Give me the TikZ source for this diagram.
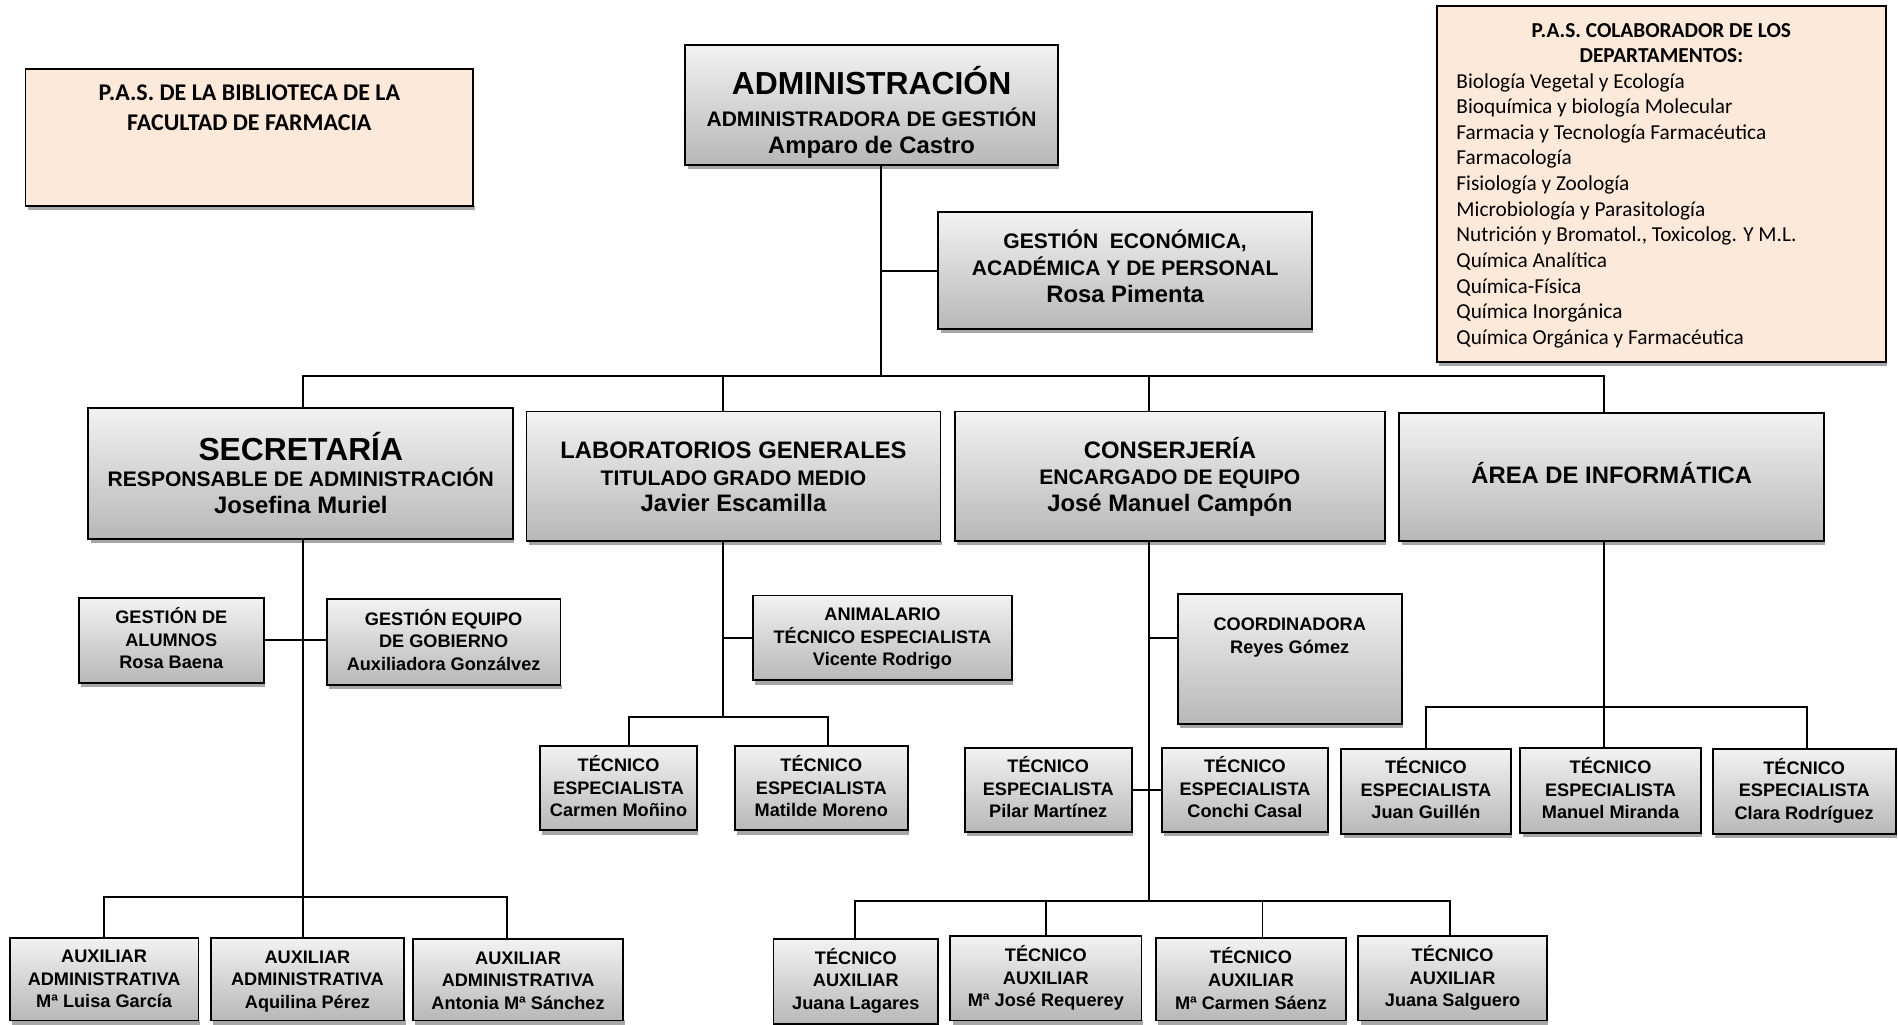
\documentclass[tikz,border=0pt]{standalone}
\usepackage{fontspec}
\setmainfont{Liberation Sans}
\newfontfamily\calf{Carlito}
\definecolor{peach}{HTML}{FDE9D9}
\newcommand\szT{\fontsize{26.3}{22}\selectfont}
\newcommand\szN{\fontsize{19.7}{22}\selectfont}
\newcommand\bx[6]{%
  \fill[boxshadow] (#3+2,#6) rectangle (#5+1,#6+3.5);
  \node[#1, minimum width={#5-#3}, minimum height={#6-#4}] (#2) at ({(#3+#5)/2},{(#4+#6)/2}) {};}
\tikzset{
  gbox/.style={draw, line width=1.5pt, top color=black!5, bottom color=black!28, inner sep=0pt, shape=rectangle},
  pbox/.style={draw, line width=1.5pt, fill=peach, inner sep=0pt, shape=rectangle},
  boxshadow/.style={fill=black!35},
  conn/.style={draw, line width=1.6pt, line cap=rect},
  bigtxt/.style={font=\bfseries\fontsize{17.4}{22}\selectfont, align=center, inner sep=0pt},
  smalltxt/.style={font=\bfseries\fontsize{15}{18.6}\selectfont, align=center, inner sep=0pt},
}
\begin{document}
\begin{tikzpicture}[x=1pt,y=-1pt]
\fill[white] (0,0) rectangle (1568,846);
\useasboundingbox (0,0) rectangle (1568,846);

% peach boxes
\bx{pbox}{bib}{21}{57}{391}{170}
\node[font=\calf\bfseries\fontsize{19.8}{24}\selectfont, align=center, inner sep=0pt] (bibT) at (206,89) {P.A.S. DE LA BIBLIOTECA DE LA\\FACULTAD DE FARMACIA};
\bx{pbox}{col}{1187}{5}{1558}{299}
\node[font=\calf\bfseries\fontsize{17.6}{21.2}\selectfont, align=center, inner sep=0pt] (colT) at (1372.5,35.6) {P.A.S. COLABORADOR DE LOS\\DEPARTAMENTOS:};
\node[font=\calf\fontsize{17.6}{21.2}\selectfont, align=left, inner sep=0pt, anchor=west] (listT) at (1203,174.1) {Biología Vegetal y Ecología\\Bioquímica y biología Molecular\\Farmacia y Tecnología Farmacéutica\\Farmacología\\Fisiología y Zoología\\Microbiología y Parasitología\\Nutrición y Bromatol., Toxicolog. Y M.L.\\Química Analítica\\Química-Física\\Química Inorgánica\\Química Orgánica y Farmacéutica};

% top level
\bx{gbox}{adm}{566}{37}{874}{136}
\node[bigtxt] (admT) at (720,92.8) {{\szT ADMINISTRACIÓN}\\[4pt]ADMINISTRADORA DE GESTIÓN\\{\szN Amparo de Castro}};
\bx{gbox}{gec}{775}{175}{1084}{272}
\node[bigtxt] (gecT) at (929.5,219.9) {GESTIÓN\ \ ECONÓMICA,\\ACADÉMICA Y DE PERSONAL\\{\szN Rosa Pimenta}};

% departments
\bx{gbox}{sec}{73}{337}{424}{445}
\node[bigtxt] (secT) at (248.5,390.75) {{\szT SECRETARÍA}\\RESPONSABLE DE ADMINISTRACIÓN\\{\szN Josefina Muriel}};
\bx{gbox}{lab}{435}{340}{777}{447}
\node[bigtxt] (labT) at (606,393.9) {{\szN LABORATORIOS GENERALES}\\TITULADO GRADO MEDIO\\{\szN Javier Escamilla}};
\bx{gbox}{cons}{789}{340}{1144}{447}
\node[bigtxt] (consT) at (966.5,393.9) {{\szN CONSERJERÍA}\\ENCARGADO DE EQUIPO\\{\szN José Manuel Campón}};
\bx{gbox}{inf}{1156}{341}{1507}{447}
\node[bigtxt] (infT) at (1331.5,390.9) {{\szN ÁREA DE INFORMÁTICA}};

% secretaria children
\bx{gbox}{ga}{65}{494}{218}{564}
\node[smalltxt] (gaT) at (141.5,527.4) {GESTIÓN DE\\ALUMNOS\\Rosa Baena};
\bx{gbox}{ge}{270}{495}{463}{566}
\node[smalltxt] (geT) at (366.5,528.4) {GESTIÓN EQUIPO\\DE GOBIERNO\\Auxiliadora Gonzálvez};
\bx{gbox}{a1}{8}{775}{164}{843}
\node[smalltxt] (a1T) at (86,809) {AUXILIAR\\ADMINISTRATIVA\\Mª Luisa García};
\bx{gbox}{a2}{174}{775}{334}{843}
\node[smalltxt] (a2T) at (254,810.6) {AUXILIAR\\ADMINISTRATIVA\\Aquilina Pérez};
\bx{gbox}{a3}{341}{776}{515}{843}
\node[smalltxt] (a3T) at (428,810) {AUXILIAR\\ADMINISTRATIVA\\Antonia Mª Sánchez};

% laboratorios children
\bx{gbox}{anim}{622}{492}{836}{562}
\node[smalltxt] (animT) at (729,527.6) {ANIMALARIO\\TÉCNICO ESPECIALISTA\\Vicente Rodrigo};
\bx{gbox}{te1}{446}{616}{576}{686}
\node[smalltxt] (te1T) at (511,649.4) {TÉCNICO\\ESPECIALISTA\\Carmen Moñino};
\bx{gbox}{te2}{607}{616}{750}{686}
\node[smalltxt] (te2T) at (678.5,649.4) {TÉCNICO\\ESPECIALISTA\\Matilde Moreno};

% conserjeria children
\bx{gbox}{coord}{973}{491}{1158}{598}
\node[smalltxt] (coordT) at (1065.5,526.9) {COORDINADORA\\Reyes Gómez};
\bx{gbox}{tp}{797}{618}{935}{687}
\node[smalltxt] (tpT) at (866,650.4) {TÉCNICO\\ESPECIALISTA\\Pilar Martínez};
\bx{gbox}{tc}{960}{618}{1097}{687}
\node[smalltxt] (tcT) at (1028.5,650.4) {TÉCNICO\\ESPECIALISTA\\Conchi Casal};
\bx{gbox}{tal1}{639}{776}{775}{846}
\node[smalltxt] (tal1T) at (707,810) {TÉCNICO\\AUXILIAR\\Juana Lagares};
\bx{gbox}{tal2}{785}{773}{943}{843}
\node[smalltxt] (tal2T) at (864,808) {TÉCNICO\\AUXILIAR\\Mª José Requerey};
\bx{gbox}{tal3}{955}{775}{1112}{843}
\node[smalltxt] (tal3T) at (1033.5,808.4) {TÉCNICO\\AUXILIAR\\Mª Carmen Sáenz};
\bx{gbox}{tal4}{1122}{773}{1278}{843}
\node[smalltxt] (tal4T) at (1200,808) {TÉCNICO\\AUXILIAR\\Juana Salguero};

% informatica children
\bx{gbox}{tj}{1108}{619}{1248}{689}
\node[smalltxt] (tjT) at (1178,651.4) {TÉCNICO\\ESPECIALISTA\\Juan Guillén};
\bx{gbox}{tm}{1256}{618}{1405}{688}
\node[smalltxt] (tmT) at (1330.5,651.4) {TÉCNICO\\ESPECIALISTA\\Manuel Miranda};
\bx{gbox}{tcr}{1415}{619}{1566}{689}
\node[smalltxt] (tcrT) at (1490.5,653) {TÉCNICO\\ESPECIALISTA\\Clara Rodríguez};

% ---- connectors ----
\coordinate (jA) at (728,311);
\coordinate (jS) at (250,311);
\coordinate (jL) at (597,311);
\coordinate (jC) at (949,311);
\coordinate (jI) at (1325,311);
\draw[conn] (jA |- adm.south) -- (jA);
\draw[conn] (jA |- gec.west) -- (gec.west);
\draw[conn] (jS |- sec.north) -- (jS) -- (jI) -- (jI |- inf.north);
\draw[conn] (jL) -- (jL |- lab.north);
\draw[conn] (jC) -- (jC |- cons.north);

% secretaria
\coordinate (sB) at (250,741);
\coordinate (aL) at (86,741);
\coordinate (aR) at (419,741);
\draw[conn] (sB |- sec.south) -- (sB |- a2.north);
\draw[conn] (ga.east) -- (ge.west |- ga.east);
\draw[conn] (aL |- a1.north) -- (aL) -- (aR) -- (aR |- a3.north);

% laboratorios
\coordinate (lB) at (597,592);
\coordinate (lL) at (520,592);
\coordinate (lR) at (684,592);
\draw[conn] (lB |- lab.south) -- (lB);
\draw[conn] (lB |- anim.west) -- (anim.west);
\draw[conn] (lL |- te1.north) -- (lL) -- (lR) -- (lR |- te2.north);

% conserjeria
\coordinate (cB) at (949,744);
\coordinate (cbr) at (949,527);
\coordinate (cL) at (706,744);
\coordinate (c2) at (864,744);
\coordinate (c3) at (1043,744);
\coordinate (cR) at (1198,744);
\draw[conn] (cB |- cons.south) -- (cB);
\draw[conn] (cbr) -- (cbr -| coord.west);
\draw[conn] (tp.east) -- (tc.west);
\draw[conn] (cL |- tal1.north) -- (cL) -- (cR) -- (cR |- tal4.north);
\draw[conn] (c2) -- (c2 |- tal2.north);
\draw[conn] (c3) -- (c3 |- tal3.north);

% informatica
\coordinate (iB) at (1325,584);
\coordinate (iL) at (1178,584);
\coordinate (iR) at (1493,584);
\draw[conn] (iB |- inf.south) -- (iB |- tm.north);
\draw[conn] (iL |- tj.north) -- (iL) -- (iR) -- (iR |- tcr.north);
\end{tikzpicture}
\end{document}
